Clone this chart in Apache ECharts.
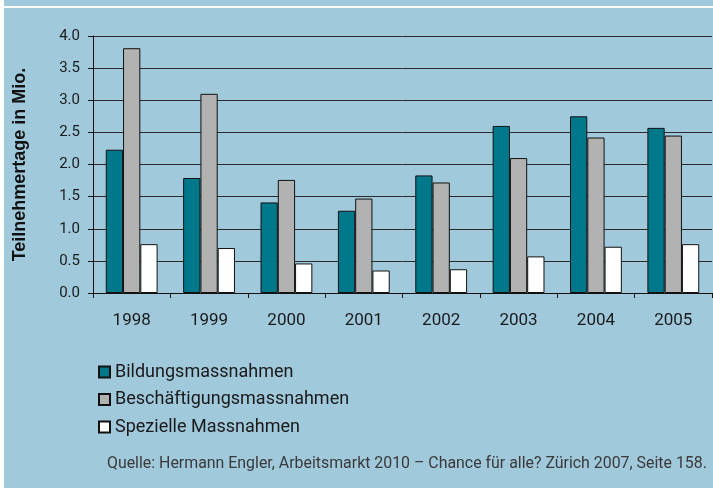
<!DOCTYPE html>
<html>
<head>
<meta charset="utf-8">
<script src="https://cdn.jsdelivr.net/npm/echarts@6/dist/echarts.min.js"></script>
<style>
  html, body { margin: 0; padding: 0; background: #ffffff; }
  #chart { width: 713px; height: 488px; }
</style>
</head>
<body>
<div id="chart"></div>
<script>
const years = ['1998', '1999', '2000', '2001', '2002', '2003', '2004', '2005'];
const bildung = [2.23, 1.79, 1.41, 1.28, 1.83, 2.60, 2.75, 2.57];
const beschaeftigung = [3.81, 3.10, 1.76, 1.47, 1.72, 2.10, 2.42, 2.45];
const spezielle = [0.76, 0.70, 0.46, 0.35, 0.37, 0.57, 0.72, 0.76];
const seriesNames = ['Bildungsmassnahmen', 'Beschäftigungsmassnahmen', 'Spezielle Massnahmen'];
const yAxisTitle = 'Teilnehmertage in Mio.';
const sourceText = 'Quelle: Hermann Engler, Arbeitsmarkt 2010 – Chance für alle? Zürich 2007, Seite 158.';

const colors = ['#00788c', '#b2b2b2', '#ffffff'];
const BG = '#a1c9dc';
const FONT = 'Roboto';

const chart = echarts.init(document.getElementById('chart'), null, { renderer: 'canvas' });

function barSeries(name, data, color) {
  return {
    name: name,
    type: 'bar',
    data: data,
    barGap: '0%',
    barCategoryGap: '33%',
    itemStyle: { color: color, borderColor: '#111', borderWidth: 1 },
    emphasis: { disabled: true },
    animation: false
  };
}

chart.setOption({
  backgroundColor: BG,
  animation: false,
  graphic: [
    { type: 'rect', left: 0, top: 0, shape: { x: 0, y: 0, width: 4, height: 488 }, style: { fill: '#ffffff' }, silent: true },
    { type: 'rect', left: 4, top: 6, shape: { x: 0, y: 0, width: 709, height: 2 }, style: { fill: '#ffffff' }, silent: true },
    { type: 'text', left: 107, top: 456, style: { text: sourceText, font: '15.9px ' + FONT, fill: '#3a3a3a' }, silent: true }
  ],
  grid: { left: 93, right: 1, top: 36, bottom: 195, containLabel: false },
  legend: {
    orient: 'vertical',
    left: 93,
    top: 358,
    icon: 'rect',
    itemWidth: 11,
    itemHeight: 11,
    itemGap: 9.5,
    selectedMode: false,
    textStyle: { fontFamily: FONT, fontSize: 18, color: '#1a1a1a', lineHeight: 18 },
    data: seriesNames
  },
  xAxis: {
    type: 'category',
    data: years,
    boundaryGap: true,
    axisLine: { lineStyle: { color: '#111', width: 1 } },
    axisTick: { show: true, length: 5, alignWithLabel: false, lineStyle: { color: '#111' } },
    axisLabel: { fontFamily: FONT, fontSize: 17, color: '#1a1a1a', margin: 19 },
    splitLine: { show: false }
  },
  yAxis: {
    type: 'value',
    min: 0,
    max: 4,
    interval: 0.5,
    name: yAxisTitle,
    nameLocation: 'middle',
    nameGap: 64,
    nameRotate: 90,
    nameTextStyle: { fontFamily: 'Liberation Sans', fontWeight: 'bold', fontSize: 18, color: '#111' },
    axisLine: { show: true, lineStyle: { color: '#111', width: 1 } },
    axisTick: { show: true, length: 5, lineStyle: { color: '#111' } },
    axisLabel: { fontFamily: FONT, fontSize: 15, color: '#1a1a1a', margin: 13, formatter: v => v.toFixed(1) },
    splitLine: { show: true, lineStyle: { color: '#2a2a2a', width: 1 } }
  },
  series: [
    barSeries(seriesNames[0], bildung, colors[0]),
    barSeries(seriesNames[1], beschaeftigung, colors[1]),
    barSeries(seriesNames[2], spezielle, colors[2])
  ]
});
</script>
</body>
</html>
